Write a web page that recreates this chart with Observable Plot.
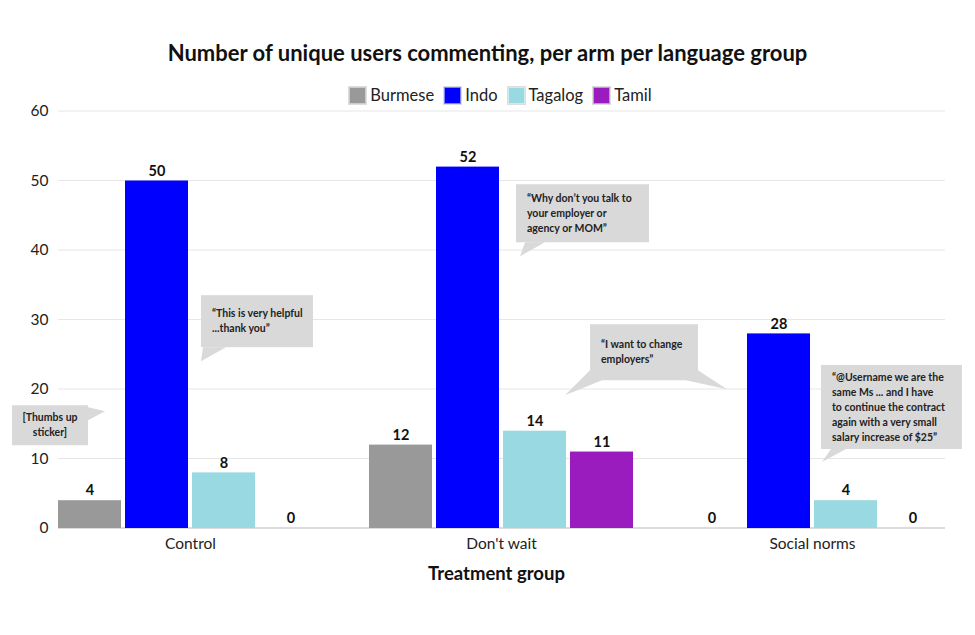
<!DOCTYPE html>
<html><head><meta charset="utf-8">
<script src="https://cdn.jsdelivr.net/npm/d3@7"></script>
<script src="https://cdn.jsdelivr.net/npm/@observablehq/plot@0.6"></script>
<style>
body{margin:0;background:#fff;font-family:Lato,"DejaVu Sans",sans-serif;}
#wrap{width:975px;position:relative;}
#title{padding-top:41px;height:24px;line-height:24px;text-align:center;font-weight:700;font-size:22px;color:#111;}
#legend{position:relative;z-index:2;display:flex;justify-content:center;align-items:center;margin-top:21px;height:18px;padding-left:26px;font-size:16.5px;color:#222;}
#legend .item{display:flex;align-items:center;margin:0 5px;}
#legend .sw{width:17px;height:17px;margin-right:4px;box-sizing:border-box;border:1px solid rgba(255,255,255,0.5);outline:1px solid #ddd;}
#chart{margin-top:-7px;position:relative;z-index:1;}
#xlabel{margin-top:9px;height:20px;line-height:20px;padding-left:48px;padding-right:30px;text-align:center;font-weight:700;font-size:18.5px;color:#111;}
</style></head><body>
<div id="wrap">
<div id="title">Number of unique users commenting, per arm per language group</div>
<div id="legend"></div>
<div id="chart"></div>
<div id="xlabel">Treatment group</div>
</div>
<script>
const groups = ["Control", "Don't wait", "Social norms"];
const languages = ["Burmese", "Indo", "Tagalog", "Tamil"];
const colors = ["#999999", "#0000ff", "#98d9e2", "#9a1cbe"];
const burmese = [4, 12, 0];
const indo = [50, 52, 28];
const tagalog = [8, 14, 4];
const tamil = [0, 11, 0];
const yTicks = [0, 10, 20, 30, 40, 50, 60];

// speech-bubble annotations: anchored to a bar (group, language) and a y value
const callouts = [
  {group: "Control", lang: "Indo", tipDx: -20, at: 16.8, box: [-93, -6, 76, 40], align: "middle",
   tails: [[[-25, -6], [0, 0], [-17, 9]]], lines: ["[Thumbs up", "sticker]"]},
  {group: "Control", lang: "Tagalog", tipDx: 9, at: 24, box: [0, -66, 112, 52], align: "start",
   tails: [[[2, -14], [0, 0], [25, -14]]], lines: ["\u201cThis is very helpful", "...thank you\u201d"]},
  {group: "Don't wait", lang: "Tagalog", tipDx: 17, at: 39.1, box: [-4, -72, 133, 58], align: "start",
   tails: [[[5, -14], [0, 0], [25, -14]]], lines: ["\u201cWhy don\u2019t you talk to", "your employer or", "agency or MOM\u201d"]},
  {group: "Don't wait", lang: "Tamil", tipDx: -5, at: 19.1, box: [25, -71, 108, 56], align: "start",
   tails: [[[25, -25], [0, 0], [37, -15]], [[121, -15], [162, -6], [133, -25]]], lines: ["\u201cI want to change", "employers\u201d"]},
  {group: "Social norms", lang: "Tagalog", tipDx: 8, at: 9.5, box: [-1, -97, 141, 84], align: "start",
   tails: [[[9, -13], [0, 0], [24, -13]]],
   lines: ["\u201c@Username we are the", "same Ms ... and I have", "to continue the contract", "again with a very small", "salary increase of $25\u201d"]}
];

const series = [burmese, indo, tagalog, tamil];
const table = groups.flatMap((g, i) => languages.map((l, j) => ({group: g, lang: l, value: series[j][i]})));

// legend
const leg = d3.select("#legend");
languages.forEach((l, j) => {
  const it = leg.append("div").attr("class", "item");
  it.append("div").attr("class", "sw").style("background", colors[j]);
  it.append("span").text(l);
});

const W = 975, ML = 58, MR = 30;
const plot = Plot.plot({
  width: W, height: 457,
  marginTop: 14, marginBottom: 26, marginLeft: ML, marginRight: MR,
  style: {fontFamily: "Lato, 'DejaVu Sans', sans-serif", fontSize: "15.5px", color: "#222", background: "none"},
  fx: {domain: groups, paddingInner: 0.151, paddingOuter: 0, label: null, tickSize: 0, tickPadding: 9},
  x: {domain: languages, paddingInner: 0.06, paddingOuter: 0, axis: null},
  y: {domain: [0, 60], ticks: yTicks, tickSize: 0, tickPadding: 10, label: null},
  color: {domain: languages, range: colors},
  marks: [
    Plot.barY(table, {fx: "group", x: "lang", y: "value", fill: "lang", ariaLabel: d => d.group + "|" + d.lang}),
    Plot.text(table, {fx: "group", x: "lang", y: "value", text: d => String(d.value), dy: -10,
      fontWeight: "bold", fontSize: 14.5, fill: "#111"})
  ]
});
document.getElementById("chart").append(plot);

const yS = plot.scale("y");
const svg = d3.select(plot);

// continuous gridlines across all facets, drawn beneath the bars
const grid = svg.insert("g", ":first-child").attr("class", "grid");
grid.selectAll("line").data(yTicks).join("line")
  .attr("x1", ML).attr("x2", W - MR)
  .attr("y1", d => yS.apply(d)).attr("y2", d => yS.apply(d))
  .attr("stroke", d => d === 0 ? "#d0d0d0" : "#e6e6e6")
  .attr("stroke-width", d => d === 0 ? 1.5 : 1);

// draw speech bubbles anchored to the rendered bars
const sb = plot.getBoundingClientRect();
const layer = svg.append("g").attr("class", "callouts");
const rects = Array.from(plot.querySelectorAll("rect"));
for (const c of callouts) {
  const el = rects.find(r => r.getAttribute("aria-label") === c.group + "|" + c.lang);
  if (!el) continue;
  const rb = el.getBoundingClientRect();
  const tx = rb.left - sb.left + c.tipDx;
  const ty = yS.apply(c.at);
  const g = layer.append("g").attr("transform", `translate(${tx},${ty})`);
  for (const t of c.tails) g.append("polygon").attr("points", t.map(p => p.join(",")).join(" ")).attr("fill", "#d9d9d9");
  const [bx, by, bw, bh] = c.box;
  g.append("rect").attr("x", bx).attr("y", by).attr("width", bw).attr("height", bh).attr("fill", "#d9d9d9");
  const n = c.lines.length, lh = 15, cy = by + bh / 2;
  const text = g.append("text").attr("font-size", 10.5).attr("font-weight", "bold").attr("fill", "#222")
    .attr("text-anchor", c.align).attr("font-family", "Lato, 'DejaVu Sans', sans-serif");
  c.lines.forEach((line, i) => {
    text.append("tspan").attr("x", c.align === "middle" ? bx + bw / 2 : bx + 11)
      .attr("y", cy + (i - (n - 1) / 2) * lh).attr("dy", "0.35em").text(line);
  });
}
</script>
</body></html>
